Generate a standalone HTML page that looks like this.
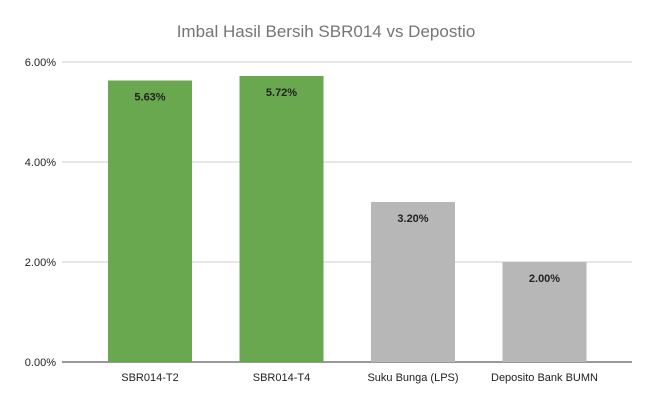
<!DOCTYPE html>
<html><head><meta charset="utf-8"><style>
body{margin:0;background:#fff;}
svg{display:block;font-family:"Liberation Sans",Arial,sans-serif;}
</style></head><body>
<svg id="chart" width="653" height="403" viewBox="0 0 653 403">
<text x="326" y="37" text-anchor="middle" font-size="17" fill="#757575">Imbal Hasil Bersih SBR014 vs Depostio</text>
<g id="grid"></g><g id="bars"></g><g id="labels"></g>
</svg>
<script>
const categories=["SBR014-T2","SBR014-T4","Suku Bunga (LPS)","Deposito Bank BUMN"];
const values=[5.63,5.72,3.20,2.00];
const colors=["#6aa84f","#6aa84f","#b7b7b7","#b7b7b7"];
const ticks=[0,2,4,6];
const ns="http://www.w3.org/2000/svg";
const svg=document.getElementById('chart');
const y=v=>362-v*50;
const x=i=>150+i*131.5;
const bw=84;
function mk(tag,attrs,parent,text){const e=document.createElementNS(ns,tag);for(const k in attrs)e.setAttribute(k,attrs[k]);if(text!==undefined)e.textContent=text;parent.appendChild(e);return e;}
const g=document.getElementById('grid'),b=document.getElementById('bars'),l=document.getElementById('labels');
ticks.forEach(t=>{
 const ln=mk('line',{x1:62,x2:632,y1:y(t),y2:y(t),stroke:t===0?'#333':'#cccccc','stroke-width':1},g);
 
 
 const tx=mk('text',{x:56,y:y(t)+4,'text-anchor':'end','font-size':11,fill:'#222'},g,t.toFixed(2)+'%');
 
 
});
values.forEach((v,i)=>{
 const r=mk('rect',{x:x(i)-bw/2,y:y(v),width:bw,height:y(0)-y(v),fill:colors[i]},b);
 
 
 const vt=mk('text',{x:x(i),y:y(v)+20,'text-anchor':'middle','font-size':11,'font-weight':'bold',fill:'#222'},l,v.toFixed(2)+'%');
 
 
 const ct=mk('text',{x:x(i),y:381,'text-anchor':'middle','font-size':11,fill:'#222'},l,categories[i]);
 
 
});
</script>
</body></html>
